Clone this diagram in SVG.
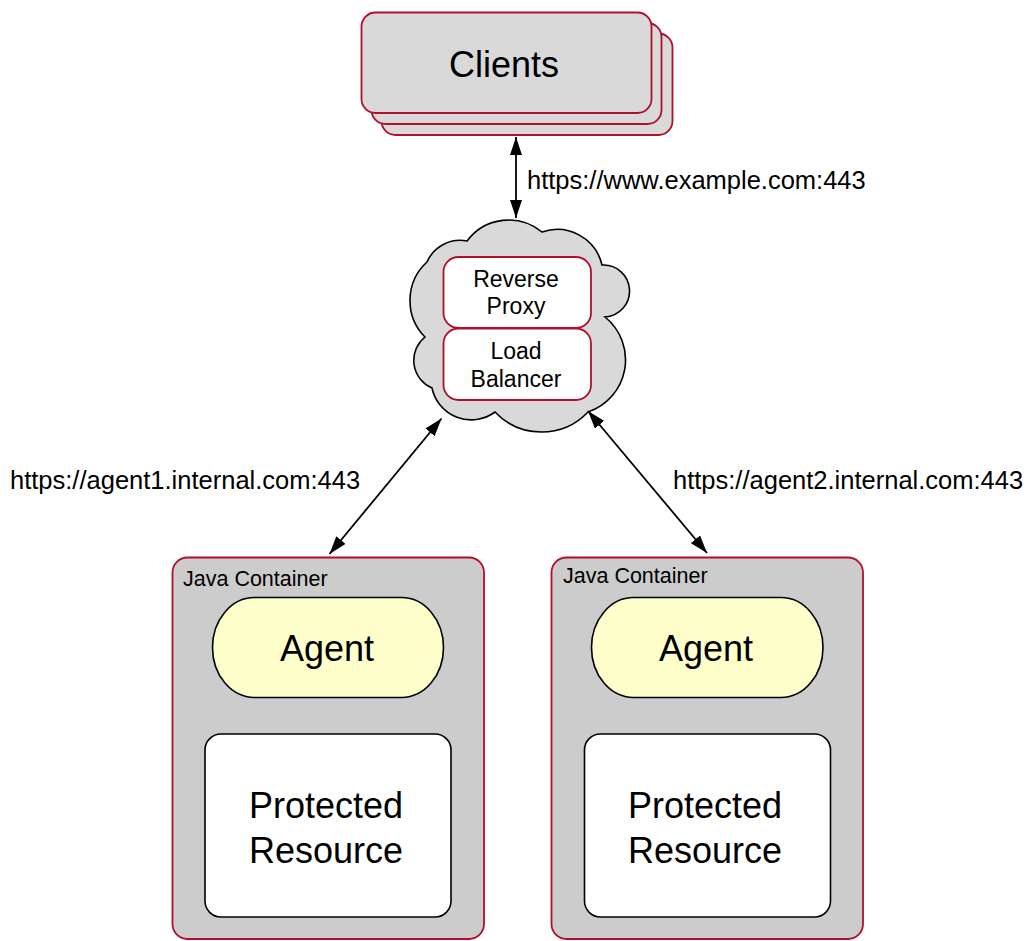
<svg xmlns="http://www.w3.org/2000/svg" width="1027" height="941" viewBox="0 0 1027 941">
<style>
text{font-family:"Liberation Sans",Arial,Helvetica,sans-serif;fill:#000}
.cl{fill:#d9d9d9;stroke:#b0102b;stroke-width:1.8}
.inner{fill:#fff;stroke:#b0102b;stroke-width:1.8}
.cont{fill:#cccccc;stroke:#b0102b;stroke-width:1.8}
.agent{fill:#ffffcc;stroke:#000;stroke-width:1.6}
.res{fill:#fff;stroke:#000;stroke-width:1.6}
.edge{stroke:#000;stroke-width:1.8;fill:none;marker-start:url(#ah);marker-end:url(#ah)}
.big{font-size:36px;text-anchor:middle}
.mid{font-size:23px;text-anchor:middle}
.lbl{font-size:25.5px}
.small{font-size:21.5px}
</style>
<defs>
<marker id="ah" viewBox="0 0 18 12" refX="18" refY="6" markerWidth="18" markerHeight="12" markerUnits="userSpaceOnUse" orient="auto-start-reverse">
<path d="M0,0 L18,6 L0,12 z" fill="#000"/>
</marker>
</defs>
<rect width="1027" height="941" fill="#fff"/>

<g id="clients">
<rect class="cl" x="381.5" y="33.5" width="291" height="101.5" rx="14"/>
<rect class="cl" x="371.5" y="23" width="290" height="101" rx="14"/>
<rect class="cl" x="361.5" y="12.5" width="290" height="100.5" rx="14"/>
<text class="big" x="504" y="77">Clients</text>
</g>

<g id="cloud">
<path d="M467,241 A52,52 0 0 1 542,232 A46,46 0 0 1 602,265 A26,26 0 0 1 605,317 A55,55 0 0 1 588,412 A64,64 0 0 1 495,412 A40,40 0 0 1 432,388 A30,30 0 0 1 425,337 A52,52 0 0 1 427,262 A36,36 0 0 1 467,241 Z" fill="#d9d9d9" stroke="#000" stroke-width="1.6"/>
</g>

<g id="reverse-proxy">
<rect class="inner" x="443.5" y="257" width="147.5" height="71" rx="15"/>
<text class="mid" x="516" y="287">Reverse</text>
<text class="mid" x="516" y="314">Proxy</text>
</g>

<g id="load-balancer">
<rect class="inner" x="443.5" y="328.5" width="147.5" height="71.5" rx="15"/>
<text class="mid" x="516" y="359">Load</text>
<text class="mid" x="516" y="387">Balancer</text>
</g>

<g id="container1">
<rect class="cont" x="172.5" y="557.5" width="311.5" height="381.5" rx="15"/>
<text class="small" x="183" y="586">Java Container</text>
</g>
<g id="agent1">
<rect class="agent" x="212.5" y="597.5" width="231" height="100" rx="42" ry="50"/>
<text class="big" x="327" y="661">Agent</text>
</g>
<g id="resource1">
<rect class="res" x="205" y="734" width="246" height="183" rx="16"/>
<text class="big" x="326" y="818">Protected</text>
<text class="big" x="326" y="863">Resource</text>
</g>

<g id="container2">
<rect class="cont" x="551.5" y="557.5" width="311.5" height="381.5" rx="15"/>
<text class="small" x="563" y="583">Java Container</text>
</g>
<g id="agent2">
<rect class="agent" x="591.5" y="597.5" width="231.5" height="100" rx="42" ry="50"/>
<text class="big" x="706" y="661">Agent</text>
</g>
<g id="resource2">
<rect class="res" x="584.5" y="734" width="246" height="183" rx="16"/>
<text class="big" x="705" y="818">Protected</text>
<text class="big" x="705" y="863">Resource</text>
</g>

<g id="connectors">
<line class="edge" x1="516" y1="137" x2="516" y2="218"/>
<line class="edge" x1="441.5" y1="418.5" x2="329.5" y2="554"/>
<line class="edge" x1="588" y1="411" x2="707" y2="553"/>
<text class="lbl" x="527" y="189">https://www.example.com:443</text>
<text class="lbl" x="10" y="489">https://agent1.internal.com:443</text>
<text class="lbl" x="673" y="489">https://agent2.internal.com:443</text>
</g>
</svg>
